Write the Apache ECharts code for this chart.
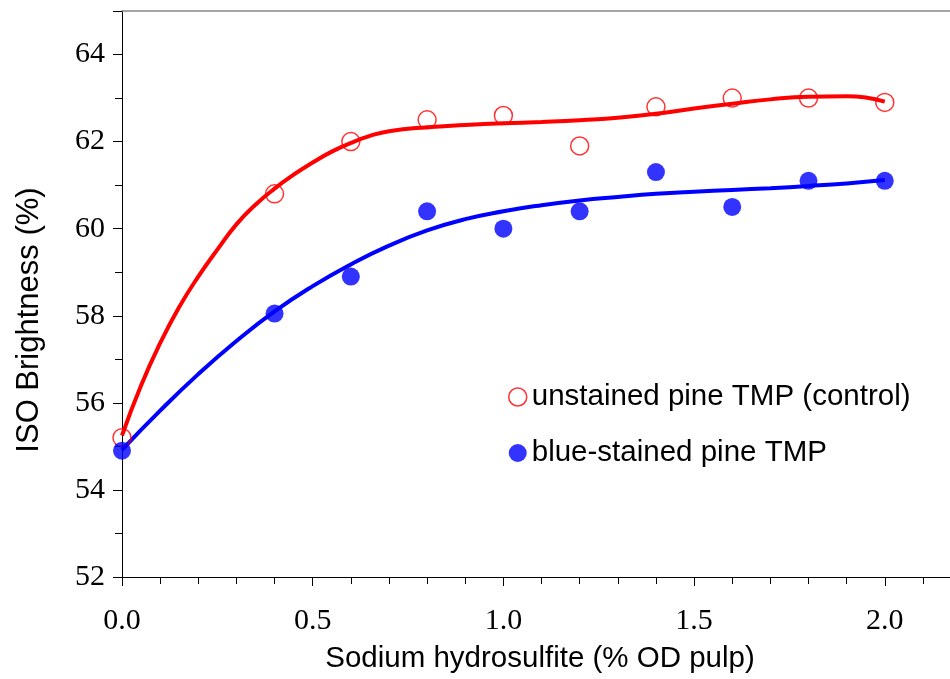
<!DOCTYPE html>
<html>
<head>
<meta charset="utf-8">
<script src="https://cdn.jsdelivr.net/npm/echarts@6/dist/echarts.min.js"></script>
<style>
  html, body { margin: 0; padding: 0; background: #fff; }
  #chart { width: 950px; height: 679px; }
</style>
</head>
<body>
<div id="chart"></div>
<script>
// Sodium hydrosulfite charge (% OD pulp) for the measured samples
const doses = [0, 0.4, 0.6, 0.8, 1.0, 1.2, 1.4, 1.6, 1.8, 2.0];
// ISO brightness (%) measured for each pulp
const unstained = [55.2, 60.8, 62.0, 62.5, 62.6, 61.9, 62.8, 63.0, 63.0, 62.9];
const blueStained = [54.9, 58.05, 58.9, 60.4, 60.0, 60.4, 61.3, 60.5, 61.1, 61.1];

// Fitted trend curve for the control pulp (denser sampling where it rises steeply)
const unstainedFitDoses = [0, 0.05, 0.1, 0.15, 0.2, 0.25, 0.3, 0.35, 0.4, 0.45, 0.5, 0.55, 0.6, 0.65, 0.7, 0.8, 0.9, 1.0, 1.1, 1.2, 1.3, 1.4, 1.5, 1.6, 1.7, 1.8, 1.9, 2.0];
const unstainedFit = [55.25, 56.4, 57.37, 58.2, 58.9, 59.52, 60.1, 60.55, 60.92, 61.24, 61.52, 61.77, 61.97, 62.13, 62.24, 62.33, 62.38, 62.42, 62.45, 62.49, 62.55, 62.64, 62.76, 62.87, 62.97, 63.03, 63.04, 62.92];

// Fitted trend curve for the blue-stained pulp
const blueFitDoses = [0, 0.1, 0.2, 0.3, 0.4, 0.5, 0.6, 0.7, 0.8, 0.9, 1.0, 1.1, 1.2, 1.3, 1.4, 1.5, 1.6, 1.7, 1.8, 1.9, 2.0];
const blueStainedFit = [54.92, 55.82, 56.66, 57.42, 58.1, 58.68, 59.18, 59.61, 59.96, 60.22, 60.4, 60.54, 60.65, 60.73, 60.8, 60.85, 60.89, 60.93, 60.98, 61.04, 61.12];

const seriesNames = ['unstained pine TMP (control)', 'blue-stained pine TMP'];

const pairs = (xs, ys) => xs.map((x, i) => [x, ys[i]]);

const serif = '"Liberation Serif", "Times New Roman", serif';
const sans = '"Liberation Sans", Arial, sans-serif';

const chart = echarts.init(document.getElementById('chart'), null, { renderer: 'canvas' });

chart.setOption({
  animation: false,
  backgroundColor: '#ffffff',
  grid: { left: 122, top: 11, right: 0, bottom: 95, containLabel: false },
  legend: {
    orient: 'vertical',
    left: 503,
    top: 377,
    itemWidth: 18,
    itemHeight: 18,
    itemGap: 26,
    textStyle: { fontFamily: sans, fontSize: 29.5, color: '#000', lineHeight: 30 },
    data: [
      { name: seriesNames[0], icon: 'circle', itemStyle: { color: 'rgba(0,0,0,0)', borderColor: '#ff0000', borderWidth: 1.5 } },
      { name: seriesNames[1], icon: 'circle', itemStyle: { color: '#0000ff', borderWidth: 0 } }
    ]
  },
  xAxis: [
    {
      type: 'value',
      min: 0,
      max: 2.171,
      interval: 0.5,
      position: 'bottom',
      splitLine: { show: false },
      axisLine: { show: true, onZero: false, lineStyle: { color: '#000', width: 1 } },
      axisTick: { show: true, length: 9, lineStyle: { color: '#000', width: 1 } },
      minorTick: { show: true, splitNumber: 5, length: 7, lineStyle: { color: '#000', width: 1 } },
      axisLabel: {
        margin: 29,
        fontFamily: serif,
        fontSize: 30,
        color: '#000',
        showMaxLabel: false,
        formatter: v => v.toFixed(1)
      },
      name: 'Sodium hydrosulfite (% OD pulp)',
      nameLocation: 'middle',
      nameGap: 67,
      nameTextStyle: { fontFamily: sans, fontSize: 29.5, color: '#000', padding: [0, 0, 0, 8] }
    },
    {
      type: 'value',
      min: 0,
      max: 2.171,
      position: 'top',
      splitLine: { show: false },
      axisLine: { show: true, onZero: false, lineStyle: { color: '#888888', width: 1.5 } },
      axisTick: { show: false },
      axisLabel: { show: false }
    }
  ],
  yAxis: {
    type: 'value',
    min: 52,
    max: 65,
    interval: 2,
    splitLine: { show: false },
    axisLine: { show: true, onZero: false, lineStyle: { color: '#000', width: 1 } },
    axisTick: { show: true, length: 9, lineStyle: { color: '#000', width: 1 } },
    minorTick: { show: true, splitNumber: 2, length: 7, lineStyle: { color: '#000', width: 1 } },
    axisLabel: {
      margin: 17,
      fontFamily: serif,
      fontSize: 30,
      color: '#000',
      showMaxLabel: false
    },
    name: 'ISO Brightness (%)',
    nameLocation: 'middle',
    nameGap: 77,
    nameRotate: 90,
    nameTextStyle: { fontFamily: sans, fontSize: 31, color: '#000', padding: [0, 52, 0, 0] }
  },
  series: [
    {
      name: 'unstained fit',
      type: 'line',
      data: pairs(unstainedFitDoses, unstainedFit),
      smooth: 0.5,
      showSymbol: false,
      symbol: 'none',
      lineStyle: { color: '#ff0000', width: 4 },
      z: 2
    },
    {
      name: 'blue-stained fit',
      type: 'line',
      data: pairs(blueFitDoses, blueStainedFit),
      smooth: 0.5,
      showSymbol: false,
      symbol: 'none',
      lineStyle: { color: '#0000ff', width: 4 },
      z: 2
    },
    {
      name: seriesNames[0],
      type: 'scatter',
      data: pairs(doses, unstained),
      symbol: 'circle',
      symbolSize: 18,
      itemStyle: { color: 'rgba(0,0,0,0)', borderColor: '#ff0000', borderWidth: 1.5 },
      z: 4
    },
    {
      name: seriesNames[1],
      type: 'scatter',
      data: pairs(doses, blueStained),
      symbol: 'circle',
      symbolSize: 18,
      itemStyle: { color: '#0000ff' },
      z: 5
    }
  ]
});
</script>
</body>
</html>
